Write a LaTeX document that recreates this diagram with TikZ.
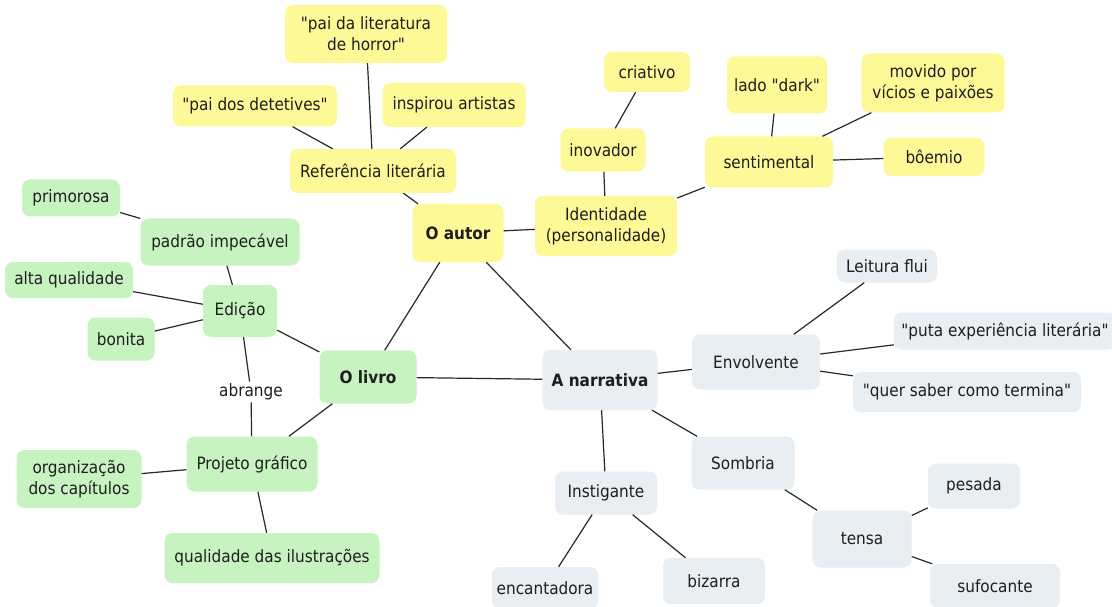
\documentclass[tikz,border=0pt]{standalone}
\usepackage{fontspec}
\setmainfont{DejaVu Sans}[FakeStretch=0.9, Ligatures=TeXOff]
\definecolor{ylw}{RGB}{253,249,150}
\definecolor{grn}{RGB}{199,243,193}
\definecolor{gry}{RGB}{232,238,241}
\definecolor{txt}{RGB}{30,30,30}
\definecolor{edgecol}{RGB}{40,40,40}
\tikzset{
  box/.style={rounded corners=8pt, inner sep=0pt, align=center, text=txt,
    font=\fontsize{17}{21}\selectfont},
  yb/.style={box, fill=ylw},
  gb/.style={box, fill=grn},
  rb/.style={box, fill=gry},
  lbl/.style={inner sep=2pt, text=txt, font=\fontsize{17}{21}\selectfont},
  link/.style={draw=edgecol, line width=1.2pt},
  sz/.style 2 args={minimum width=#1pt, minimum height=#2pt},
}
\begin{document}
\begin{tikzpicture}[x=1pt,y=-1pt]
\fill[white] (0,0) rectangle (1112,607);
\useasboundingbox (0,0) rectangle (1112,607);
% yellow
\node[yb, sz={162}{58}] (horror) at (366,34) {"pai da literatura\\de horror"};
\node[yb, sz={164}{41}] (detet) at (255,106) {"pai dos detetives"};
\node[yb, sz={143}{44}] (inspir) at (454,105) {inspirou artistas};
\node[yb, sz={166}{44}] (refer) at (373,171) {Referência literária};
\node[yb, sz={91}{58}] (autor) at (458,233) {\bfseries O autor};
\node[yb, sz={142}{60}] (ident) at (606,226) {Identidade\\(personalidade)};
\node[yb, sz={86}{40}] (criat) at (647,72) {criativo};
\node[yb, sz={85}{43}] (inov) at (603,150) {inovador};
\node[yb, sz={100}{57}] (dark) at (777,85) {lado "dark"};
\node[yb, sz={143}{59}] (movido) at (933,83) {movido por\\vícios e paixões};
\node[yb, sz={128}{51}] (sentim) at (769,162) {sentimental};
\node[yb, sz={101}{38}] (boemio) at (934,157) {bôemio};
% green
\node[gb, sz={98}{37}] (primor) at (71,198) {primorosa};
\node[gb, sz={159}{47}] (padrao) at (220,242) {padrão impecável};
\node[gb, sz={128}{36}] (altaq) at (69,280) {alta qualidade};
\node[gb, sz={74}{52}] (edicao) at (240,311) {Edição};
\node[gb, sz={67}{43}] (bonita) at (121,339) {bonita};
\node[gb, sz={97}{53}] (livro) at (368,377) {\bfseries O livro};
\node[lbl] (abrange) at (251,392) {abrange};
\node[gb, sz={131}{55}] (projeto) at (252,464) {Projeto gráfico};
\node[gb, sz={125}{58}] (organiz) at (79,479) {organização\\dos capítulos};
\node[gb, sz={215}{50}] (qualil) at (272,558) {qualidade das ilustrações};
% gray
\node[rb, sz={115}{60}] (narr) at (600,380) {\bfseries A narrativa};
\node[rb, sz={128}{55}] (envolv) at (756,362) {Envolvente};
\node[rb, sz={100}{33}] (leitura) at (887,266) {Leitura flui};
\node[rb, sz={222}{37}] (puta) at (1005,331) {"puta experiência literária"};
\node[rb, sz={228}{40}] (quer) at (967,392) {"quer saber como termina"};
\node[rb, sz={103}{53}] (sombria) at (743,463) {Sombria};
\node[rb, sz={102}{43}] (instig) at (606,493) {Instigante};
\node[rb, sz={106}{42}] (encant) at (545,588) {encantadora};
\node[rb, sz={102}{46}] (bizarra) at (714,581) {bizarra};
\node[rb, sz={99}{57}] (tensa) at (862,539) {tensa};
\node[rb, sz={92}{45}] (pesada) at (974,486) {pesada};
\node[rb, sz={130}{44}] (sufoc) at (995,586) {sufocante};
% connectors
\draw[link] (horror) -- (refer);
\draw[link] (detet) -- (refer);
\draw[link] (inspir) -- (refer);
\draw[link] (refer) -- (autor);
\draw[link] (autor) -- (ident);
\draw[link] (autor) -- (livro);
\draw[link] (autor) -- (narr);
\draw[link] (ident) -- (inov);
\draw[link] (inov) -- (criat);
\draw[link] (ident) -- (sentim);
\draw[link] (sentim) -- (dark);
\draw[link] (sentim) -- (movido);
\draw[link] (sentim) -- (boemio);
\draw[link] (livro) -- (narr);
\draw[link] (livro) -- (edicao);
\draw[link] (livro) -- (projeto);
\draw[link] (edicao) -- (padrao);
\draw[link] (padrao) -- (primor);
\draw[link] (edicao) -- (altaq);
\draw[link] (edicao) -- (bonita);
\draw[link] (edicao) -- (abrange);
\draw[link] (abrange) -- (projeto);
\draw[link] (projeto) -- (organiz);
\draw[link] (projeto) -- (qualil);
\draw[link] (narr) -- (envolv);
\draw[link] (narr) -- (sombria);
\draw[link] (narr) -- (instig);
\draw[link] (envolv) -- (leitura);
\draw[link] (envolv) -- (puta);
\draw[link] (envolv) -- (quer);
\draw[link] (sombria) -- (tensa);
\draw[link] (tensa) -- (pesada);
\draw[link] (tensa) -- (sufoc);
\draw[link] (instig) -- (encant);
\draw[link] (instig) -- (bizarra);
\end{tikzpicture}
\end{document}
